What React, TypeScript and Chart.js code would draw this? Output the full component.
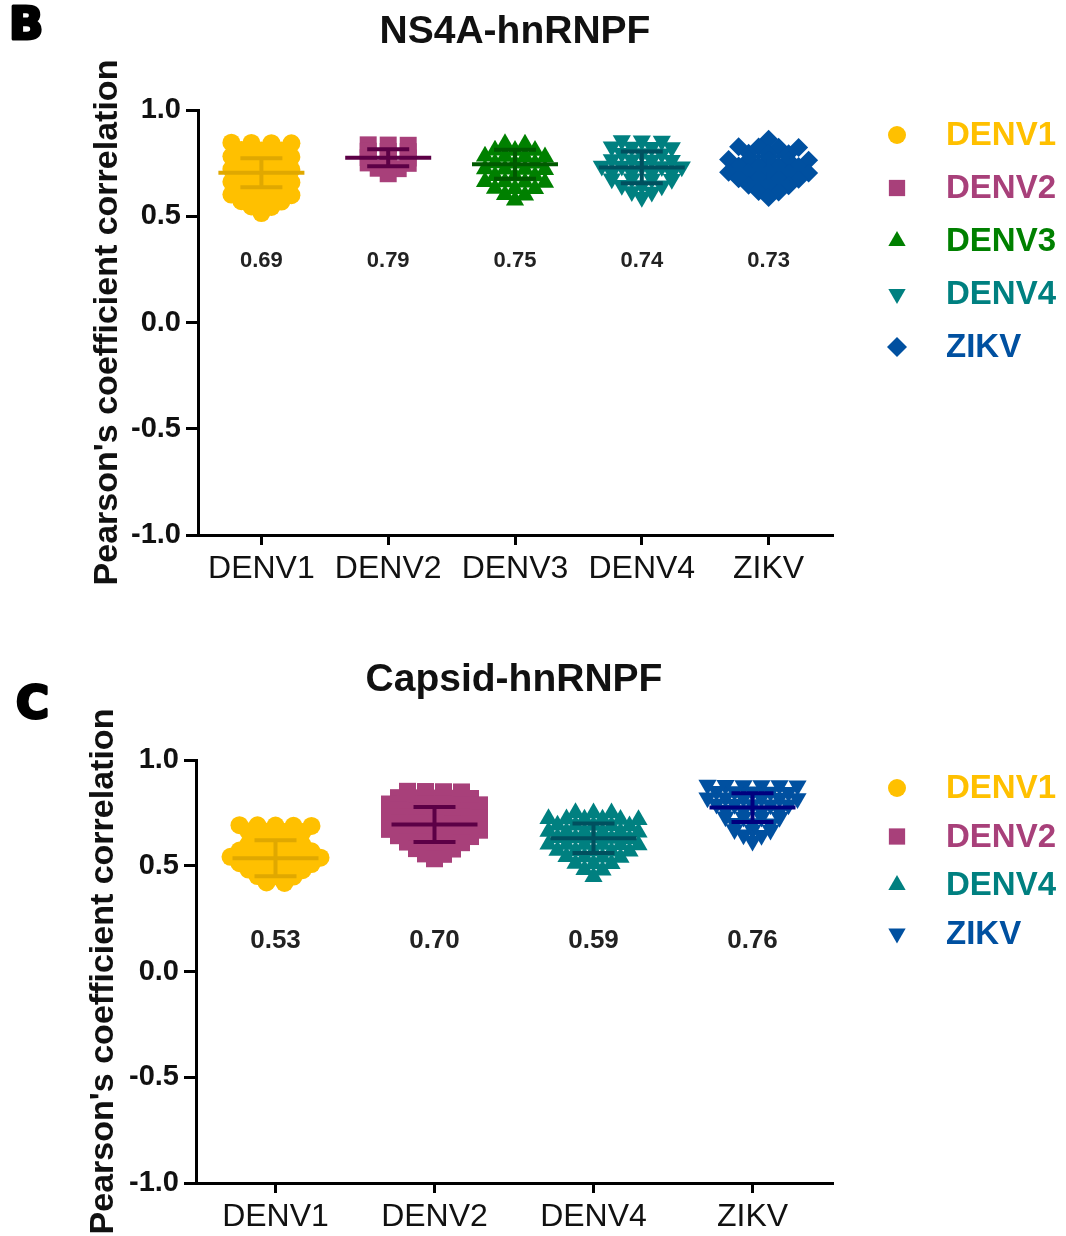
import React, { useEffect, useRef } from 'react';
import { Chart, registerables } from 'chart.js';
import { drawPoint } from 'chart.js/helpers';
Chart.register(...registerables);

const FONT = '"Liberation Sans", Arial, Helvetica, sans-serif';

// ---------- Panel B data ----------
const B_TITLE = 'NS4A-hnRNPF';
const B_LETTER = 'B';
const B_CATEGORIES = ['DENV1', 'DENV2', 'DENV3', 'DENV4', 'ZIKV'];
const B_DENV1 = [
  0.846, 0.844, 0.845, 0.843,
  0.812, 0.809, 0.81,
  0.781, 0.779, 0.78, 0.782,
  0.751, 0.749, 0.75,
  0.721, 0.719, 0.72, 0.722,
  0.691, 0.689, 0.69,
  0.661, 0.659, 0.66, 0.662,
  0.631, 0.629, 0.63,
  0.601, 0.599, 0.6, 0.602,
  0.571, 0.569, 0.57,
  0.546, 0.544,
  0.515,
];
const B_DENV2 = [
  0.836, 0.835, 0.834,
  0.806, 0.805, 0.804,
  0.776, 0.775, 0.774,
  0.751, 0.75, 0.749,
  0.726, 0.724,
  0.7,
];
const B_DENV3 = [
  0.841, 0.839,
  0.811, 0.809, 0.81,
  0.781, 0.779, 0.78, 0.782,
  0.751, 0.749, 0.75,
  0.721, 0.719, 0.72, 0.722,
  0.691, 0.689, 0.69,
  0.661, 0.659, 0.66, 0.662,
  0.631, 0.629, 0.63,
  0.601, 0.599,
  0.575,
];
const B_DENV4 = [
  0.856, 0.854, 0.855,
  0.826, 0.824, 0.825, 0.827,
  0.796, 0.794, 0.795,
  0.766, 0.764, 0.765, 0.767,
  0.736, 0.734, 0.735, 0.737, 0.733,
  0.706, 0.704, 0.705, 0.707,
  0.676, 0.674, 0.675, 0.677,
  0.646, 0.644, 0.645,
  0.616, 0.614,
  0.59,
];
const B_ZIKV = [
  0.862,
  0.826, 0.824, 0.825, 0.827,
  0.796, 0.794, 0.795,
  0.766, 0.764, 0.765, 0.767, 0.763,
  0.736, 0.734, 0.735, 0.737,
  0.706, 0.704, 0.705, 0.707, 0.703,
  0.676, 0.674, 0.675, 0.677,
  0.646, 0.644, 0.645,
  0.616, 0.614,
  0.588,
];
const B_SERIES = [B_DENV1, B_DENV2, B_DENV3, B_DENV4, B_ZIKV];
const B_MEANS = [0.705, 0.775, 0.745, 0.73, 0.72];
const B_SDS = [0.068, 0.04, 0.068, 0.075, 0.06];
const B_VALUE_LABELS = ['0.69', '0.79', '0.75', '0.74', '0.73'];
const B_COLORS = ['#FFC000', '#A8407A', '#008000', '#008080', '#0050A0'];
const B_BAR_COLORS = ['#E0A800', '#5C0046', '#005A00', '#00505F', '#0050A0'];
const B_STYLES = ['circle', 'rect', 'triangle', 'triangle', 'rectRot'];
const B_ROTATIONS = [0, 0, 0, 180, 0];

// ---------- Panel C data ----------
const C_TITLE = 'Capsid-hnRNPF';
const C_LETTER = 'C';
const C_CATEGORIES = ['DENV1', 'DENV2', 'DENV4', 'ZIKV'];
const C_DENV1 = [
  0.691, 0.689, 0.69, 0.692, 0.688,
  0.661, 0.659, 0.66, 0.662,
  0.631, 0.629, 0.63,
  0.601, 0.599, 0.6, 0.602,
  0.571, 0.569, 0.57, 0.572, 0.568,
  0.541, 0.539, 0.54, 0.542, 0.538, 0.54,
  0.511, 0.509, 0.51, 0.512, 0.508,
  0.481, 0.479, 0.48, 0.482,
  0.451, 0.449, 0.45,
  0.421, 0.419,
];
const C_DENV2 = [
  0.851, 0.849, 0.85, 0.852,
  0.821, 0.819, 0.82, 0.822, 0.818,
  0.791, 0.789, 0.79, 0.792, 0.788, 0.79,
  0.761, 0.759, 0.76, 0.762, 0.758,
  0.731, 0.729, 0.73, 0.732, 0.728, 0.73,
  0.701, 0.699, 0.7, 0.702, 0.698,
  0.671, 0.669, 0.67, 0.672, 0.668, 0.67,
  0.641, 0.639, 0.64, 0.642, 0.638,
  0.611, 0.609, 0.61, 0.612,
  0.581, 0.579, 0.58,
  0.556, 0.554,
  0.533,
];
const C_DENV4 = [
  0.751, 0.749, 0.75,
  0.721, 0.719, 0.72, 0.722, 0.718, 0.72,
  0.691, 0.689, 0.69, 0.692, 0.688,
  0.661, 0.659, 0.66, 0.662, 0.658, 0.66,
  0.631, 0.629, 0.63, 0.632, 0.628,
  0.601, 0.599, 0.6, 0.602, 0.598, 0.6,
  0.571, 0.569, 0.57, 0.572, 0.568,
  0.541, 0.539, 0.54, 0.542,
  0.511, 0.509, 0.51,
  0.481, 0.479,
  0.448,
];
const C_ZIKV = [
  0.881, 0.879, 0.88, 0.882, 0.878, 0.88,
  0.851, 0.849, 0.85, 0.852, 0.848,
  0.821, 0.819, 0.82, 0.822, 0.818, 0.82,
  0.791, 0.789, 0.79, 0.792, 0.788,
  0.761, 0.759, 0.76, 0.762,
  0.731, 0.729, 0.73, 0.732,
  0.701, 0.699, 0.7,
  0.671, 0.669, 0.67,
  0.646, 0.644,
  0.617,
];
const C_SERIES = [C_DENV1, C_DENV2, C_DENV4, C_ZIKV];
const C_MEANS = [0.535, 0.695, 0.63, 0.775];
const C_SDS = [0.085, 0.083, 0.07, 0.068];
const C_VALUE_LABELS = ['0.53', '0.70', '0.59', '0.76'];
const C_COLORS = ['#FFC000', '#A8407A', '#008080', '#0050A0'];
const C_BAR_COLORS = ['#E0A800', '#5C0046', '#00505F', '#00007F'];
const C_STYLES = ['circle', 'rect', 'triangle', 'triangle'];
const C_ROTATIONS = [0, 0, 0, 180];

// ---------- Shared axis ----------
const Y_MIN = -1;
const Y_MAX = 1;
const Y_STEP = 0.5;
const Y_TITLE = "Pearson's coefficient correlation";

const RADIUS: Record<string, number> = { circle: 9, rect: 12, triangle: 10.5, rectRot: 9.5 };

// GraphPad-style column scatter: points of nearly equal value form a row,
// spread symmetrically around the category centre
const swarmPlugin = {
  id: 'swarm',
  afterDatasetsUpdate(chart: any, _args: any, opts: any) {
    const s = opts.spacing || 20;
    const tol = opts.tolerance || 3.5;
    chart.data.datasets.forEach((_ds: any, i: number) => {
      const meta = chart.getDatasetMeta(i);
      const els = meta.data.slice().sort((a: any, b: any) => a.y - b.y);
      const rows: any[][] = [];
      let start = -Infinity;
      for (const el of els) {
        if (el.y - start > tol) {
          rows.push([el]);
          start = el.y;
        } else {
          rows[rows.length - 1].push(el);
        }
      }
      for (const row of rows) {
        const n = row.length;
        row.forEach((el: any, k: number) => {
          el.x = el.x + (k - (n - 1) / 2) * s;
        });
      }
    });
  },
};

// mean and SD bars, value labels, title, panel letter, legend
const decorPlugin = {
  id: 'decor',
  afterDatasetsDraw(chart: any, _args: any, o: any) {
    const { ctx, chartArea } = chart;
    const x = chart.scales.x;
    const y = chart.scales.y;
    ctx.save();
    o.means.forEach((m: number, i: number) => {
      const cx = x.getPixelForValue(i);
      const my = y.getPixelForValue(m);
      const top = y.getPixelForValue(m + o.sds[i]);
      const bot = y.getPixelForValue(m - o.sds[i]);
      ctx.strokeStyle = o.barColors[i];
      ctx.lineWidth = 4;
      ctx.lineCap = 'butt';
      ctx.beginPath();
      ctx.moveTo(cx - 43, my); ctx.lineTo(cx + 43, my);
      ctx.moveTo(cx - 21, top); ctx.lineTo(cx + 21, top);
      ctx.moveTo(cx - 21, bot); ctx.lineTo(cx + 21, bot);
      ctx.moveTo(cx, top); ctx.lineTo(cx, bot);
      ctx.stroke();
    });
    ctx.fillStyle = '#222';
    ctx.font = `bold ${o.valueFont}px ${FONT}`;
    ctx.textAlign = 'center';
    ctx.textBaseline = 'middle';
    o.valueLabels.forEach((t: string, i: number) => {
      ctx.fillText(t, x.getPixelForValue(i), y.getPixelForValue(o.valueLabelAt));
    });
    ctx.fillStyle = '#111';
    ctx.font = `bold 39px ${FONT}`;
    ctx.fillText(o.title, (chartArea.left + chartArea.right) / 2, o.titleY);
    ctx.font = `bold 45px "DejaVu Sans", ${FONT}`;
    ctx.textAlign = 'left';
    ctx.lineWidth = 3;
    ctx.lineJoin = 'round';
    ctx.strokeStyle = '#000';
    ctx.fillStyle = '#000';
    ctx.fillText(o.letter, o.letterX, o.letterY);
    ctx.strokeText(o.letter, o.letterX, o.letterY);
    ctx.font = `bold 33px ${FONT}`;
    ctx.textBaseline = 'middle';
    chart.data.datasets.forEach((ds: any, i: number) => {
      const ly = chartArea.top + o.legendTop + i * o.legendGap;
      const mx = chartArea.right + 65;
      ctx.fillStyle = ds.backgroundColor;
      ctx.strokeStyle = ds.backgroundColor;
      drawPoint(ctx, { pointStyle: ds.pointStyle, radius: o.legendRadius[ds.pointStyle], rotation: ds.rotation, borderWidth: 0 } as any, mx, ly);
      ctx.fillStyle = ds.backgroundColor;
      ctx.fillText(ds.label, chartArea.right + 114, ly + 1);
    });
    ctx.restore();
  },
};

interface PanelProps {
  top: number;
  height: number;
  categories: string[];
  series: number[][];
  colors: string[];
  barColors: string[];
  styles: string[];
  rotations: number[];
  means: number[];
  sds: number[];
  valueLabels: string[];
  valueLabelAt: number;
  valueFont: number;
  title: string;
  titleY: number;
  letter: string;
  letterX: number;
  letterY: number;
  padTop: number;
  padBottom: number;
  yWidth: number;
  yTitlePad: number;
  legendTop: number;
  legendGap: number;
  spacing: number;
}

function Panel(p: PanelProps) {
  const ref = useRef<HTMLCanvasElement | null>(null);
  useEffect(() => {
    if (!ref.current) return;
    const datasets = p.series.map((vals, i) => ({
      label: p.categories[i],
      data: vals.map((v) => ({ x: p.categories[i], y: v })),
      backgroundColor: p.colors[i],
      borderColor: p.colors[i],
      borderWidth: 0,
      pointStyle: p.styles[i],
      rotation: p.rotations[i],
      pointRotation: p.rotations[i],
      pointRadius: RADIUS[p.styles[i]],
      pointHoverRadius: RADIUS[p.styles[i]],
    }));
    const chart = new Chart(ref.current, {
      type: 'scatter',
      data: { datasets } as any,
      plugins: [swarmPlugin, decorPlugin],
      options: {
        animation: false,
        responsive: false,
        maintainAspectRatio: false,
        events: [],
        layout: { padding: { left: 0, right: 1066 - 832, top: p.padTop, bottom: p.padBottom } },
        plugins: {
          legend: { display: false },
          tooltip: { enabled: false },
          title: { display: false },
          swarm: { spacing: p.spacing, tolerance: 3.5 },
          decor: {
            means: p.means,
            sds: p.sds,
            barColors: p.barColors,
            valueLabels: p.valueLabels,
            valueLabelAt: p.valueLabelAt,
            valueFont: p.valueFont,
            title: p.title,
            titleY: p.titleY,
            letter: p.letter,
            letterX: p.letterX,
            letterY: p.letterY,
            legendTop: p.legendTop,
            legendGap: p.legendGap,
            legendRadius: { circle: 9, rect: 11.5, triangle: 10, rectRot: 10 },
          },
        } as any,
        scales: {
          x: {
            type: 'category',
            labels: p.categories,
            offset: true,
            afterFit: (s: any) => { s.height = 50; },
            border: { display: true, color: '#000', width: 3 },
            grid: { display: true, drawOnChartArea: false, drawTicks: true, tickLength: 10, color: '#000', lineWidth: 3 },
            ticks: { color: '#111', font: { family: FONT, size: 32 }, padding: 5, maxRotation: 0, autoSkip: false },
          },
          y: {
            type: 'linear',
            min: Y_MIN,
            max: Y_MAX,
            afterFit: (s: any) => { s.width = p.yWidth; },
            border: { display: true, color: '#000', width: 3 },
            grid: { display: true, drawOnChartArea: false, drawTicks: true, tickLength: 12, color: '#000', lineWidth: 3 },
            ticks: {
              stepSize: Y_STEP,
              color: '#111',
              font: { family: FONT, size: 29, weight: 'bold' },
              padding: 5,
              callback: (v: any) => Number(v).toFixed(1),
            },
            title: {
              display: true,
              text: Y_TITLE,
              color: '#111',
              font: { family: FONT, size: 34, weight: 'bold' },
              padding: { top: p.yTitlePad, bottom: 0 },
            },
          },
        },
      } as any,
    });
    return () => chart.destroy();
  }, []);
  return (
    <canvas
      ref={ref}
      width={1066}
      height={p.height}
      style={{ position: 'absolute', left: 0, top: p.top, width: 1066, height: p.height }}
    />
  );
}

export default function App() {
  return (
    <div style={{ position: 'absolute', left: 0, top: 0, width: 1066, height: 1236, background: '#fff' }}>
      <Panel
        top={0}
        height={620}
        categories={B_CATEGORIES}
        series={B_SERIES}
        colors={B_COLORS}
        barColors={B_BAR_COLORS}
        styles={B_STYLES}
        rotations={B_ROTATIONS}
        means={B_MEANS}
        sds={B_SDS}
        valueLabels={B_VALUE_LABELS}
        valueLabelAt={0.29}
        valueFont={22}
        title={B_TITLE}
        titleY={32}
        letter={B_LETTER}
        letterX={9}
        letterY={27}
        padTop={110}
        padBottom={35}
        yWidth={198}
        yTitlePad={87}
        legendTop={25}
        legendGap={53}
        spacing={20}
      />
      <Panel
        top={620}
        height={616}
        categories={C_CATEGORIES}
        series={C_SERIES}
        colors={C_COLORS}
        barColors={C_BAR_COLORS}
        styles={C_STYLES}
        rotations={C_ROTATIONS}
        means={C_MEANS}
        sds={C_SDS}
        valueLabels={C_VALUE_LABELS}
        valueLabelAt={0.147}
        valueFont={26}
        title={C_TITLE}
        titleY={60}
        letter={C_LETTER}
        letterX={16}
        letterY={86}
        padTop={140}
        padBottom={3}
        yWidth={196}
        yTitlePad={83}
        legendTop={28}
        legendGap={48.5}
        spacing={18}
      />
    </div>
  );
}
